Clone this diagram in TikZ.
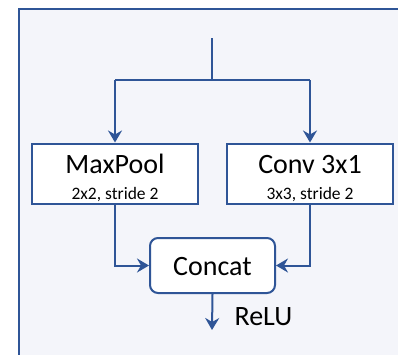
\documentclass[tikz,border=0pt]{standalone}
\usepackage{fontspec}
\setmainfont{Carlito}
\usetikzlibrary{arrows.meta}
\definecolor{lineblue}{HTML}{2F5597}
\definecolor{bgpanel}{HTML}{F4F5FA}
\begin{document}
\begin{tikzpicture}[x=1pt,y=-1pt,
  conn/.style={draw=lineblue,line width=2pt},
  arr/.style={conn,-{Stealth[length=12pt,width=14pt,inset=4pt]}},
  opbox/.style={draw=lineblue,line width=2pt,fill=white,minimum width=166pt,minimum height=60pt,inner sep=0pt},
  cbox/.style={draw=lineblue,line width=2pt,fill=white,rounded corners=8pt,minimum width=125pt,minimum height=55pt,inner sep=0pt},
  big/.style={font=\fontsize{28}{31}\selectfont},
  small/.style={font=\fontsize{17.5}{20}\selectfont}]
\useasboundingbox (0,0) rectangle (398,354);
\fill[white] (0,0) rectangle (398,354);
\fill[bgpanel] (19,9) rectangle (400,356);
\draw[lineblue,line width=2.5pt] (19,360) -- (19,9) -- (405,9);
\coordinate (in) at (212,38);
\coordinate (split) at (212,80);
\coordinate (lc) at (115,80);
\coordinate (rc) at (310,80);
\node[opbox] (mp) at (115,173.5) {};
\node[big,anchor=base] (mpt) at (115,173) {MaxPool};
\node[small,anchor=base] (mps) at (115,199) {2x2, stride 2};
\node[opbox] (cv) at (310,173.5) {};
\node[big,anchor=base] (cvt) at (310,173) {Conv 3x1};
\node[small,anchor=base] (cvs) at (310,199) {3x3, stride 2};
\node[cbox] (cc) at (212.5,265.5) {};
\node[big,anchor=base] (cct) at (212.5,275) {Concat};
\coordinate (out) at (212,330);
\node[big,anchor=base west] (relu) at (231,325) {ReLU};
\draw[conn] (in) -- (split);
\draw[conn] (lc) -- (rc);
\draw[arr] (lc) -- (mp.north);
\draw[arr] (rc) -- (cv.north);
\draw[arr] (mp.south) |- (cc.west);
\draw[arr] (cv.south) |- (cc.east);
\draw[arr] (cc.south) -- (out);
\end{tikzpicture}
\end{document}
